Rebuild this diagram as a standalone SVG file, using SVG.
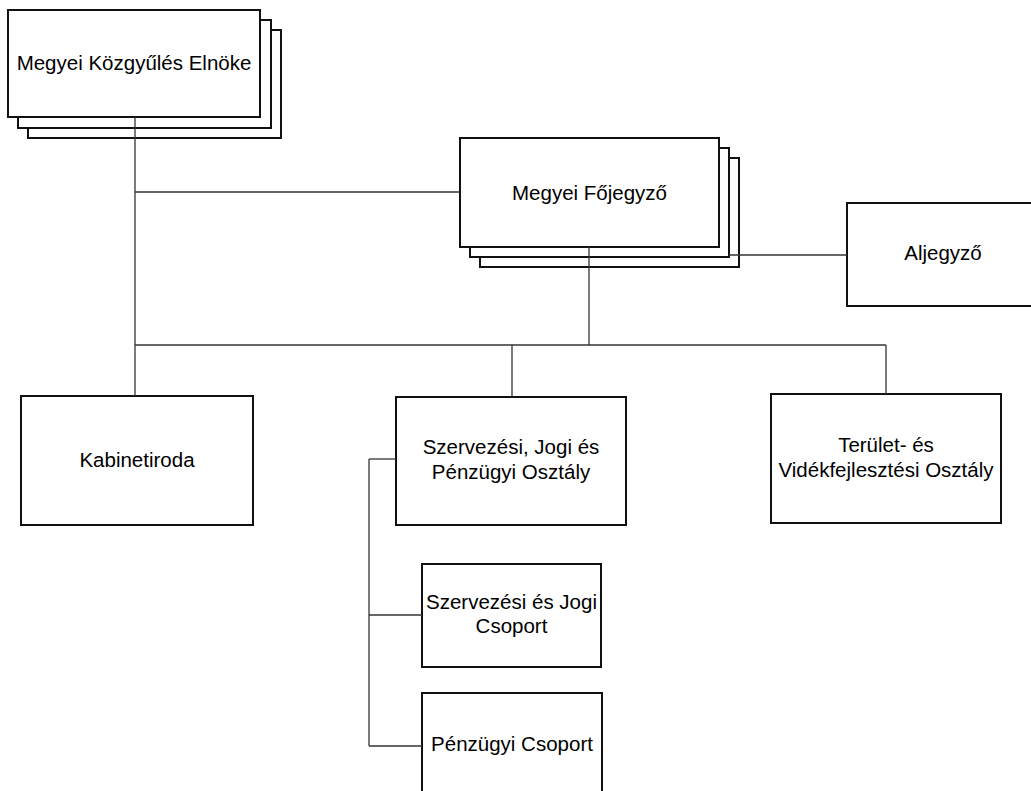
<svg xmlns="http://www.w3.org/2000/svg" width="1031" height="791" viewBox="0 0 1031 791">
<style>
.box{fill:#fff;stroke:#111;stroke-width:2}
.lbl{font-family:"Liberation Sans",Arimo,Arial,sans-serif;font-size:20.5px;fill:#000;text-anchor:middle}
.conn line{stroke:#333;stroke-width:1.3;fill:none}
</style>
<rect width="1031" height="791" fill="#fff"/>
<g id="elnoke">
<rect class="box" x="28" y="30" width="253" height="108"/>
<rect class="box" x="18" y="20" width="253" height="108"/>
<rect class="box" x="8" y="10" width="252" height="107"/>
<text class="lbl" x="134" y="70">Megyei Közgyűlés Elnöke</text>
</g>
<g id="fojegyzo">
<rect class="box" x="480" y="158" width="259" height="109"/>
<rect class="box" x="470" y="148" width="259" height="109"/>
<rect class="box" x="460" y="138" width="259" height="109"/>
<text class="lbl" x="589.5" y="200">Megyei Főjegyző</text>
</g>
<g id="aljegyzo">
<rect class="box" x="847" y="203" width="192" height="103"/>
<text class="lbl" x="943" y="260">Aljegyző</text>
</g>
<g id="kabinetiroda">
<rect class="box" x="21" y="396" width="232" height="129"/>
<text class="lbl" x="137" y="467">Kabinetiroda</text>
</g>
<g id="szervezesi-osztaly">
<rect class="box" x="396" y="397" width="230" height="128"/>
<text class="lbl" x="511" y="454">Szervezési, Jogi és</text>
<text class="lbl" x="511" y="479">Pénzügyi Osztály</text>
</g>
<g id="terulet-osztaly">
<rect class="box" x="771" y="394" width="230" height="129"/>
<text class="lbl" x="886" y="452">Terület- és</text>
<text class="lbl" x="886" y="477">Vidékfejlesztési Osztály</text>
</g>
<g id="szervezesi-csoport">
<rect class="box" x="422" y="564" width="179" height="103"/>
<text class="lbl" x="511.5" y="609">Szervezési és Jogi</text>
<text class="lbl" x="511.5" y="633">Csoport</text>
</g>
<g id="penzugyi-csoport">
<rect class="box" x="422" y="693" width="180" height="103"/>
<text class="lbl" x="512" y="751">Pénzügyi Csoport</text>
</g>
<g id="connectors" class="conn">
<line x1="135" y1="117" x2="135" y2="396"/>
<line x1="135" y1="192" x2="460" y2="192"/>
<line x1="729" y1="255" x2="847" y2="255"/>
<line x1="589" y1="247" x2="589" y2="345"/>
<line x1="135" y1="345" x2="886" y2="345"/>
<line x1="512" y1="345" x2="512" y2="397"/>
<line x1="886" y1="345" x2="886" y2="394"/>
<line x1="369" y1="459" x2="396" y2="459"/>
<line x1="369" y1="459" x2="369" y2="746"/>
<line x1="369" y1="615" x2="422" y2="615"/>
<line x1="369" y1="746" x2="422" y2="746"/>
</g>
</svg>
